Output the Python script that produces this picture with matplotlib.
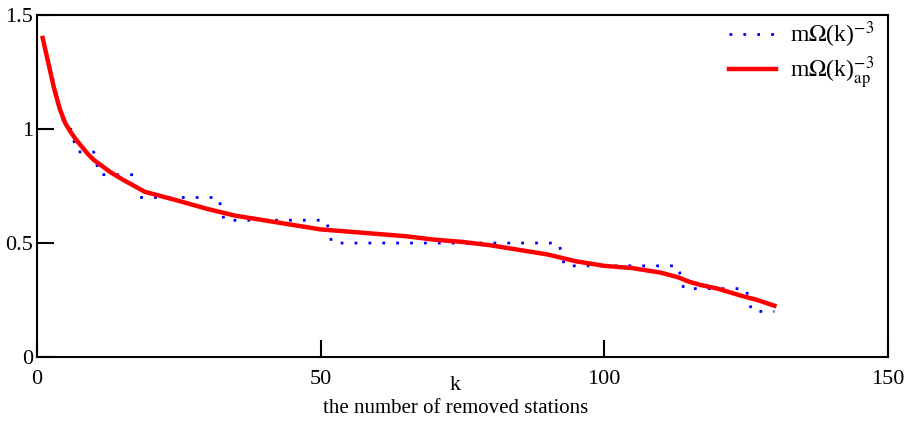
import numpy as np
import matplotlib
matplotlib.use("Agg")
import matplotlib.pyplot as plt

plt.rcParams['font.family'] = ['Liberation Serif', 'DejaVu Serif']
plt.rcParams['mathtext.fontset'] = 'stix'

# measured curve: step levels and the last k of each level (k starts at 1)
blue_levels = [1.4, 1.3, 1.2, 1.1, 1.0, 0.9, 0.8, 0.7, 0.6, 0.5, 0.4, 0.3, 0.2]
blue_last_k = [1, 2, 3, 4, 6, 10, 17, 32, 51, 92, 113, 125, 130]

# approximation curve
red_k = [1, 2, 3, 4, 5, 6, 7, 8, 9, 10, 13, 15, 19, 25, 30, 35, 40, 45, 50,
         55, 60, 65, 70, 75, 80, 85, 90, 95, 100, 105, 110, 113, 115, 117,
         120, 124, 127, 130]
red_v = [1.40, 1.29, 1.18, 1.09, 1.025, 0.985, 0.95, 0.92, 0.89, 0.865, 0.81,
         0.78, 0.725, 0.685, 0.65, 0.62, 0.60, 0.58, 0.56, 0.55, 0.54, 0.53,
         0.515, 0.505, 0.49, 0.47, 0.45, 0.42, 0.40, 0.39, 0.37, 0.35, 0.33,
         0.316, 0.30, 0.27, 0.25, 0.225]

counts = np.diff([0] + blue_last_k)
blue_v = np.repeat(blue_levels, counts)
blue_k = np.arange(1, len(blue_v) + 1)

fig = plt.figure(figsize=(9.11, 4.21), dpi=100)
ax = fig.add_axes([0.0406, 0.152, 0.934, 0.812])

ax.plot(blue_k, blue_v, color='#0000ff', lw=2, linestyle=(0, (1, 4)),
        label=r'm$\Omega$(k)$^{-3}$')
ax.plot(red_k, red_v, color='#ff0000', lw=3.2, label=r'm$\Omega$(k)$_{\rm ap}^{-3}$')

ax.set_xlim(0, 150)
ax.set_ylim(0, 1.5)
ax.set_xticks([0, 50, 100, 150])
ax.set_yticks([0, 0.5, 1, 1.5])
ax.set_yticklabels(['0', '0.5', '1', '1.5'])
ax.tick_params(direction='in', length=12, width=1.5, labelsize=16)
ax.tick_params(axis='x', pad=9)
ax.tick_params(axis='y', pad=3)
for s in ax.spines.values():
    s.set_linewidth(1.5)

fig.text(0.5, 0.085, 'k', ha='center', va='center', fontsize=16)
fig.text(0.5, 0.03, 'the number of removed stations', ha='center', va='center', fontsize=15)

ax.legend(loc='upper right', frameon=False, fontsize=17, handlelength=2.0,
          handletextpad=0.6, borderaxespad=0.0, borderpad=0.2, labelspacing=0.15,
          bbox_to_anchor=(0.99, 1.0))

fig.savefig('out.png', dpi=100)
